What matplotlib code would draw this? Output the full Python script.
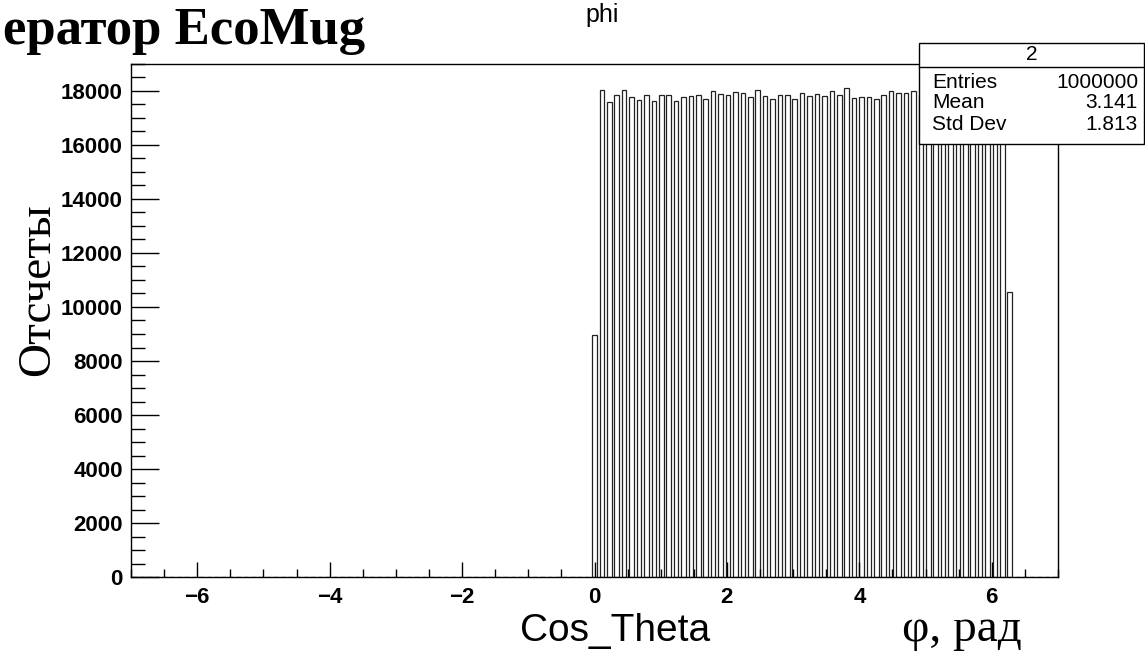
import numpy as np
import matplotlib
matplotlib.use("Agg")
import matplotlib.pyplot as plt
from matplotlib.ticker import MultipleLocator
from matplotlib.patches import Rectangle
from matplotlib.lines import Line2D

# гистограмма phi: 125 бинов от -7 до 7
x_min, x_max, n_bins = -7.0, 7.0, 125

# отсчеты в бинах (бины слева от 0 пустые)
empty_left = [0] * 62
filled = [8950,
          18040, 17610, 17870, 18040, 17760, 17680, 17870, 17640, 17870, 17870,
          17640, 17790, 17830, 17870, 17720, 18010, 17890, 17870, 17980, 17940,
          17790, 18040, 17830, 17720, 17870, 17870, 17720, 17940, 17830, 17890,
          17830, 18010, 17840, 18110, 17740, 17790, 17790, 17720, 17850, 18010,
          17940, 17940, 18010, 17850, 17760, 17900, 17820, 17700, 17880, 17790,
          17930, 17810, 17740, 17860, 17800,
          10550]
empty_right = [0] * 6
counts = np.array(empty_left + filled + empty_right, dtype=float)

stat_title = "2"
stat_names = ["Entries", "Mean", "Std Dev"]
stat_values = ["1000000", "3.141", "1.813"]

edges = np.linspace(x_min, x_max, n_bins + 1)
centers = (edges[:-1] + edges[1:]) / 2
bin_w = edges[1] - edges[0]

fig = plt.figure(figsize=(11.45, 6.53), dpi=100)
W, H = 1145, 653
ax = fig.add_axes([131 / W, 1 - 577 / H, (1058 - 131) / W, (577 - 64) / H])

ax.bar(centers, counts, width=bin_w * 0.62, facecolor="white",
       edgecolor="#222222", linewidth=0.9)

ax.set_xlim(x_min, x_max)
ax.set_ylim(0, 19000)
ax.xaxis.set_major_locator(MultipleLocator(2))
ax.xaxis.set_minor_locator(MultipleLocator(0.5))
ax.yaxis.set_major_locator(MultipleLocator(2000))
ax.yaxis.set_minor_locator(MultipleLocator(500))
ax.tick_params(axis="y", which="major", direction="in", length=20, width=1, pad=6)
ax.tick_params(axis="y", which="minor", direction="in", length=10, width=1)
ax.tick_params(axis="x", which="major", direction="in", length=11, width=1, pad=7)
ax.tick_params(axis="x", which="minor", direction="in", length=5.5, width=1)
for lab in ax.get_xticklabels() + ax.get_yticklabels():
    lab.set_fontfamily("Liberation Sans")
    lab.set_fontweight("bold")
    lab.set_fontsize(16)
for sp in ax.spines.values():
    sp.set_linewidth(1)

# подписи
fig.text(3 / W, 1 - 31 / H, "ератор EcoMug", family="Liberation Serif",
         weight="bold", fontsize=38, va="center", ha="left")
fig.text(602 / W, 1 - 15 / H, "phi", family="Liberation Sans", fontsize=18,
         va="center", ha="center")
fig.text(38 / W, 1 - 290 / H, "Отсчеты", family="Liberation Serif",
         fontsize=34, rotation=90, va="center", ha="center")
fig.text(615 / W, 1 - 631 / H, "Cos_Theta", family="Liberation Sans",
         fontsize=28, va="center", ha="center")
fig.text(962 / W, 1 - 630 / H, "φ, рад", family="Liberation Serif",
         fontsize=34, va="center", ha="center")

# панель статистики
bx0, bx1, by0, by1, bdiv = 919, 1144, 43, 144, 67
fig.patches.append(Rectangle((bx0 / W, 1 - by1 / H), (bx1 - bx0) / W, (by1 - by0) / H,
                             transform=fig.transFigure, facecolor="white",
                             edgecolor="black", linewidth=1, zorder=5))
fig.lines.append(Line2D([bx0 / W, bx1 / W], [1 - bdiv / H, 1 - bdiv / H],
                        transform=fig.transFigure, color="black", linewidth=1, zorder=6))
fig.text((bx0 + bx1) / 2 / W, 1 - 55 / H, stat_title, family="Liberation Sans",
         fontsize=15, ha="center", va="center", zorder=7)
row_y = [82, 103, 125]
for name, val, yy in zip(stat_names, stat_values, row_y):
    fig.text(932 / W, 1 - yy / H, name, family="Liberation Sans", fontsize=15,
             ha="left", va="center", zorder=7)
    fig.text(1138 / W, 1 - yy / H, val, family="Liberation Sans", fontsize=15,
             ha="right", va="center", zorder=7)

fig.savefig("out.png", dpi=100)
